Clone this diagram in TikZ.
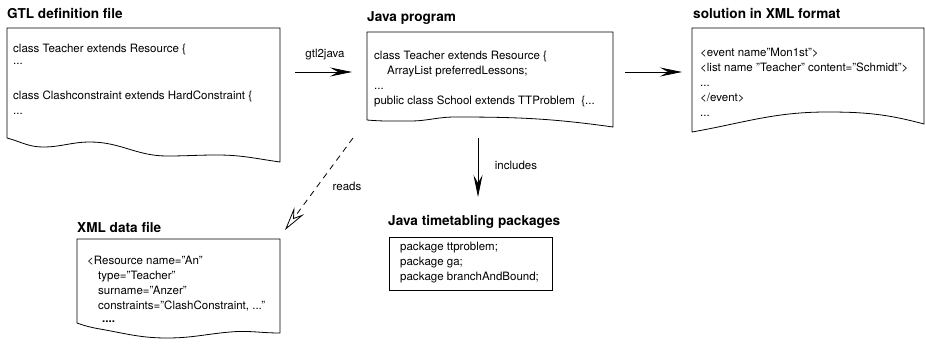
\documentclass[tikz,border=0pt]{standalone}
\usepackage{fontspec}
\setmainfont{TeX Gyre Heros}
\usetikzlibrary{arrows.meta}

\tikzset{
  paper/.style={draw, line width=0.8pt, fill=white},
  title/.style={anchor=base west, inner sep=0pt, font=\fontsize{13.6}{16}\selectfont\bfseries},
  % multi-line text: the base anchor sits on the last line
  body/.style={anchor=base west, inner sep=0pt, align=left, font=\fontsize{11.5}{15}\selectfont},
  tag/.style={inner sep=0pt, font=\fontsize{11.5}{14}\selectfont},
  flow/.style={line width=0.8pt, -{Stealth[length=22pt,width=9pt,inset=8pt]}},
  reads/.style={line width=0.8pt, dash pattern=on 6pt off 5pt, -{Stealth[open,length=24pt,width=12pt,inset=9pt]}}
}

\begin{document}
\begin{tikzpicture}[x=1pt,y=-1pt]
\useasboundingbox (0,0) rectangle (925,348);

% the documents, with torn bottom edges
\draw[paper] (7,138) -- (7,28) -- (280,28) -- (280,162) to [out=172, in=0] (217,155) to [out=180, in=0] (167,156) to [out=180, in=0] (90,142) to [out=180, in=0] (43,147) to [out=180, in=-15] cycle;
\draw[paper] (367,120) -- (367,32) -- (613,32) -- (613,127) to [out=172, in=0] (455,117) to [out=180, in=0] (410,121) to [out=180, in=-5] cycle;
\draw[paper] (692,132) -- (692,28) -- (924,28) -- (924,124) to [out=165, in=0] (827,112) to [out=180, in=10] cycle;
\draw[paper] (77,323) -- (77,239) -- (280,239) -- (280,333) to [out=180, in=5] (230,332) to [out=185, in=0] (167,338) to [out=180, in=-10] (100,329) to [out=170, in=-20] cycle;
\draw[paper] (389,237) rectangle (552,290);

% titles
\node[title] (gtl title) at (7,18) {GTL definition file};
\node[title] (java title) at (367,21) {Java program};
\node[title] (sol title) at (693,18.5) {solution in XML format};
\node[title] (data title) at (77,232) {XML data file};
\node[title] (pkg title) at (388,225) {Java timetabling packages};

% file contents
\node[body] (gtl) at (13,114) {class Teacher extends Resource \{\\[-3pt] ...\\[20pt] class Clashconstraint extends HardConstraint \{\\ ...};
\node[body] (java) at (374,104.5) {class Teacher extends Resource \{\\ \hspace*{13pt}ArrayList preferredLessons;\\ ...\\ public class School extends TTProblem \ \{...};
\node[body] (sol) at (700,116) {<event name"Mon1st">\\ <list name "Teacher" content="Schmidt">\\ ...\\ </event>\\ ...};
\node[body] (data) at (87,322) {<Resource name="An"\\ \hspace*{11pt}type="Teacher"\\ \hspace*{11pt}surname="Anzer"\\ \hspace*{11pt}constraints="ClashConstraint, ..."\\[-2pt] \hspace*{15pt}\textbf{....}};
\node[body] (pkg) at (400,280) {package ttproblem;\\ package ga;\\ package branchAndBound;};

% arrow ends
\coordinate (gtl out) at (295,72);
\coordinate (java in) at (352,72);
\coordinate (java out) at (625,72);
\coordinate (sol in) at (682,72);
\coordinate (java down) at (478,138);
\coordinate (pkg in) at (478,197);
\coordinate (java read) at (353,138);
\coordinate (data in) at (285,230);

\draw[flow] (gtl out) -- (java in);
\draw[flow] (java out) -- (sol in);
\draw[flow] (java down) -- (pkg in);
\draw[reads] (java read) -- (data in);

\node[tag] (gtl2java) at (325,55) {gtl2java};
\node[tag] (includes) at (516,165) {includes};
\node[tag] (reads) at (347,186) {reads};
\end{tikzpicture}
\end{document}
